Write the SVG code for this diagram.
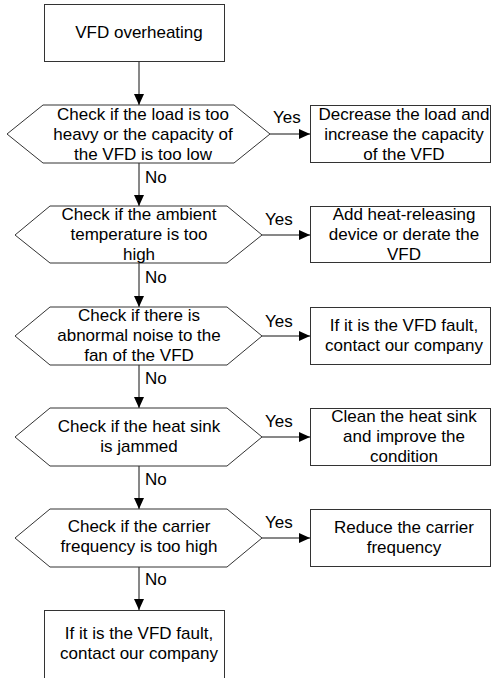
<svg xmlns="http://www.w3.org/2000/svg" width="493" height="678" viewBox="0 0 493 678">
<style>
.shape{fill:#fff;stroke:#333;stroke-width:1}
.t{font-family:"Liberation Sans",Arial,sans-serif;font-size:17px;fill:#000}
.c{text-anchor:middle}
.line{fill:none;stroke:#111;stroke-width:1}
</style>
<defs>
<marker id="ah" markerWidth="11" markerHeight="10" refX="11" refY="5" orient="auto" markerUnits="userSpaceOnUse">
<path d="M0,0 L11,5 L0,10 Z" fill="#000"/>
</marker>
<marker id="av" markerWidth="11" markerHeight="12" refX="11" refY="5" orient="auto" markerUnits="userSpaceOnUse">
<path d="M0,0 L11,5 L0,10 Z" fill="#000"/>
</marker>
</defs>
<rect width="493" height="678" fill="#fff"/>
<g id="connectors">
<line class="line" x1="139" y1="62" x2="139" y2="105" marker-end="url(#av)"/>
<line class="line" x1="139" y1="163" x2="139" y2="206" marker-end="url(#av)"/>
<line class="line" x1="139" y1="263" x2="139" y2="307" marker-end="url(#av)"/>
<line class="line" x1="139" y1="365" x2="139" y2="408" marker-end="url(#av)"/>
<line class="line" x1="139" y1="466" x2="139" y2="509" marker-end="url(#av)"/>
<line class="line" x1="139" y1="567" x2="139" y2="610" marker-end="url(#av)"/>
<line class="line" x1="270" y1="134" x2="310" y2="134" marker-end="url(#ah)"/>
<line class="line" x1="262" y1="235" x2="310" y2="235" marker-end="url(#ah)"/>
<line class="line" x1="262" y1="336" x2="310" y2="336" marker-end="url(#ah)"/>
<line class="line" x1="262" y1="437" x2="310" y2="437" marker-end="url(#ah)"/>
<line class="line" x1="262" y1="538" x2="310" y2="538" marker-end="url(#ah)"/>
<text class="t" x="145" y="183">No</text>
<text class="t" x="145" y="283">No</text>
<text class="t" x="145" y="384">No</text>
<text class="t" x="145" y="485">No</text>
<text class="t" x="145" y="585">No</text>
<text class="t" x="273" y="123">Yes</text>
<text class="t" x="265" y="225">Yes</text>
<text class="t" x="265" y="327">Yes</text>
<text class="t" x="265" y="427">Yes</text>
<text class="t" x="265" y="528">Yes</text>
</g>
<g id="start">
<rect class="shape" x="44.5" y="4.5" width="180" height="57"/>
<text class="t c" x="139" y="38">VFD overheating</text>
</g>
<g id="check-load">
<polygon class="shape" points="7,134 43,105 234,105 270,134 234,163 43,163"/>
<text class="t c" x="143" y="120">Check if the load is too</text>
<text class="t c" x="143" y="140">heavy or the capacity of</text>
<text class="t c" x="143" y="160">the VFD is too low</text>
</g>
<g id="fix-load">
<rect class="shape" x="310.5" y="105.5" width="180" height="57"/>
<text class="t c" x="404" y="120">Decrease the load and</text>
<text class="t c" x="404" y="140">increase the capacity</text>
<text class="t c" x="404" y="160">of the VFD</text>
</g>
<g id="check-ambient">
<polygon class="shape" points="15,235 50,206 227,206 262,235 227,263 50,263"/>
<text class="t c" x="139" y="220">Check if the ambient</text>
<text class="t c" x="139" y="240">temperature is too</text>
<text class="t c" x="139" y="260">high</text>
</g>
<g id="fix-ambient">
<rect class="shape" x="310.5" y="206.5" width="180" height="56"/>
<text class="t c" x="404" y="220">Add heat-releasing</text>
<text class="t c" x="404" y="240">device or derate the</text>
<text class="t c" x="404" y="260">VFD</text>
</g>
<g id="check-fan">
<polygon class="shape" points="15,336 50,307 227,307 262,336 227,365 50,365"/>
<text class="t c" x="139" y="321">Check if there is</text>
<text class="t c" x="139" y="341">abnormal noise to the</text>
<text class="t c" x="139" y="361">fan of the VFD</text>
</g>
<g id="fix-fan">
<rect class="shape" x="310.5" y="307.5" width="180" height="57"/>
<text class="t c" x="404" y="331">If it is the VFD fault,</text>
<text class="t c" x="404" y="351">contact our company</text>
</g>
<g id="check-heatsink">
<polygon class="shape" points="15,437 50,408 227,408 262,437 227,466 50,466"/>
<text class="t c" x="139" y="432">Check if the heat sink</text>
<text class="t c" x="139" y="452">is jammed</text>
</g>
<g id="fix-heatsink">
<rect class="shape" x="310.5" y="408.5" width="180" height="57"/>
<text class="t c" x="404" y="422">Clean the heat sink</text>
<text class="t c" x="404" y="442">and improve the</text>
<text class="t c" x="404" y="462">condition</text>
</g>
<g id="check-carrier">
<polygon class="shape" points="15,538 50,509 227,509 262,538 227,567 50,567"/>
<text class="t c" x="139" y="532">Check if the carrier</text>
<text class="t c" x="139" y="552">frequency is too high</text>
</g>
<g id="fix-carrier">
<rect class="shape" x="310.5" y="509.5" width="180" height="57"/>
<text class="t c" x="404" y="533">Reduce the carrier</text>
<text class="t c" x="404" y="553">frequency</text>
</g>
<g id="end">
<rect class="shape" x="44.5" y="610.5" width="180" height="80"/>
<text class="t c" x="139" y="639">If it is the VFD fault,</text>
<text class="t c" x="139" y="659">contact our company</text>
</g>
</svg>
